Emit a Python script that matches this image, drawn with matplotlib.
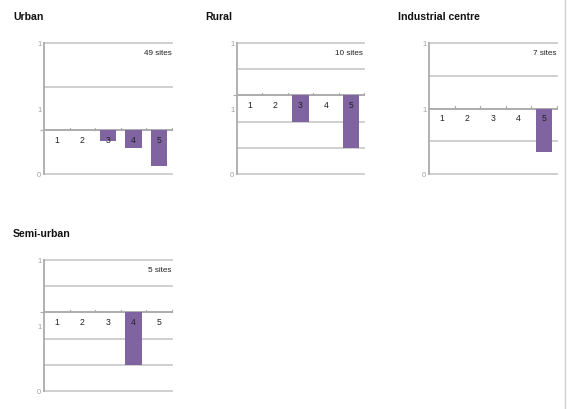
import matplotlib
matplotlib.use("Agg")
import matplotlib.pyplot as plt
from matplotlib.lines import Line2D

plt.rcParams['font.family'] = ['Liberation Sans', 'DejaVu Sans']

categories = [1, 2, 3, 4, 5]
cat_labels = ["1", "2", "3", "4", "5"]

titles = ["Urban", "Rural", "Industrial centre", "Semi-urban"]
site_labels = ["49 sites", "10 sites", "7 sites", "5 sites"]

# axis extent (number of gridline steps), level where the category axis crosses
axis_max = [3, 5, 4, 5]
baselines = [1, 3, 2, 3]

# bar end levels (bars hang down from the baseline)
urban_vals = [1, 1, 0.76, 0.60, 0.19]
rural_vals = [3, 3, 2.0, 3, 1.0]
industrial_vals = [2, 2, 2, 2, 0.66]
semiurban_vals = [3, 3, 3, 1.0, 3]
all_vals = [urban_vals, rural_vals, industrial_vals, semiurban_vals]

ytick_texts = ["0", "1", "1"]

W, H = 572, 410
fig = plt.figure(figsize=(W / 100, H / 100), dpi=100)
fig.patch.set_facecolor("white")

# pixel boxes: left, top, right, bottom
boxes = [(44, 44, 172, 175), (237, 44, 364, 175), (429, 44, 557, 175), (44, 261, 172, 392)]
title_pos = [(13, 17), (205, 17), (398, 17), (13, 234)]

bar_color = "#8064A2"
grid_color = "#CCCCCC"
axis_color = "#ABABAB"

for i in range(4):
    l, t, r, b = boxes[i]
    ax = fig.add_axes([l / W, 1 - b / H, (r - l) / W, (b - t) / H])
    ymax = axis_max[i]
    base = baselines[i]
    vals = all_vals[i]
    ax.set_xlim(0.5, 5.5)
    ax.set_ylim(0, ymax)
    heights = [v - base for v in vals]
    ax.bar(categories, heights, bottom=base, width=0.64, color=bar_color, zorder=3)
    # gridlines
    for g in range(0, ymax + 1):
        ax.axhline(g, color=grid_color, lw=1.3, zorder=1, clip_on=False)
    # category axis at baseline
    ax.axhline(base, color=axis_color, lw=1.3, zorder=2)
    for k in range(1, 6):
        ax.plot([k + 0.5, k + 0.5], [base, base + ymax * 0.018], color=axis_color, lw=0.8, zorder=2, clip_on=False)
    for k, lab in zip(categories, cat_labels):
        ax.text(k, base - ymax * 0.035, lab, ha="center", va="top", fontsize=6.2, color="#222222", zorder=4)
    # y axis
    for s in ["top", "right", "bottom"]:
        ax.spines[s].set_visible(False)
    ax.spines["left"].set_color(axis_color)
    ax.spines["left"].set_linewidth(1.3)
    ax.spines["left"].set_zorder(2.5)
    ax.set_xticks([])
    ax.set_yticks([0, ymax / 2, ymax])
    ax.set_yticklabels(ytick_texts, fontsize=5.5, color="#A0A0A0")
    ax.tick_params(axis="y", length=0, pad=2)
    ax.set_yticks([0, base, ymax], minor=True)
    ax.tick_params(axis="y", which="minor", length=3, color=axis_color, width=0.8)
    ax.set_facecolor("none")
    ax.text(0.995, 0.93, site_labels[i], transform=ax.transAxes, ha="right", va="center",
            fontsize=5.9, color="#222222")
    tx, ty = title_pos[i]
    fig.text(tx / W, 1 - ty / H, titles[i], ha="left", va="center", fontsize=7.6,
             fontweight="bold", color="#111111")

fig.add_artist(Line2D([565 / W, 565 / W], [0, 1], color="#D0D0D0", lw=1.0))

fig.savefig("out.png", dpi=100)
